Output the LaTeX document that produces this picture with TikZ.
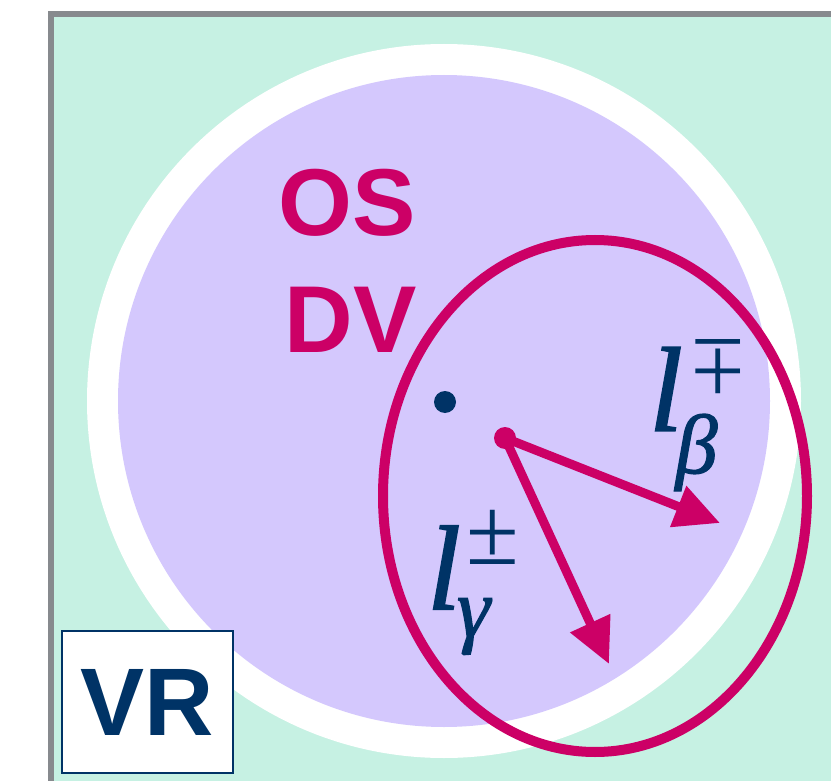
\documentclass[tikz,border=0pt]{standalone}
\usepackage{fontspec}
\setmainfont{Liberation Serif}
\newfontfamily\sansfont{Liberation Sans}
\newfontfamily\mathlike{Liberation Serif}[FakeBold=1.5]
\usetikzlibrary{arrows.meta}
\definecolor{mint}{HTML}{C6F1E3}
\definecolor{lav}{HTML}{D4C8FD}
\definecolor{pinkc}{HTML}{CC0066}
\definecolor{navy}{HTML}{003366}
\definecolor{framegray}{HTML}{878A8E}
\newsavebox\glyphbox
% place #3 with its box centre at (#1,#2) pt from the current base point, taking no width
\newcommand\placeglyph[3]{\sbox\glyphbox{#3}\rlap{\kern\dimexpr#1pt-0.5\wd\glyphbox\relax\raisebox{\dimexpr#2pt-0.5\ht\glyphbox+0.5\dp\glyphbox\relax}{\usebox\glyphbox}}}
\newcommand\lglyph{{\mathlike\itshape\fontsize{120}{120}\selectfont l}}
\newcommand\pmglyph{{\fontsize{96}{96}\selectfont ±}}
\newcommand\mpglyph{{\fontsize{96}{96}\selectfont\rotatebox[origin=c]{180}{±}}}
\newcommand\subglyph[1]{{\mathlike\itshape\fontsize{84}{84}\selectfont #1}}
\tikzset{
  bigsans/.style={font=\sansfont\bfseries\fontsize{95}{95}\selectfont, inner sep=0pt},
  vecarrow/.style={draw=pinkc, line width=9pt, -{Triangle[length=45pt,width=42pt]}},
  lbl/.style={text=navy, inner sep=0pt, anchor=base},
}
\begin{document}
\begin{tikzpicture}[x=1pt,y=-1pt]
\useasboundingbox (0,0) rectangle (831,781);
\clip (0,0) rectangle (831,781);
% background and frame
\fill[mint] (51,14) rectangle (900,900);
\draw[framegray, line width=6pt] (51,900) |- (900,14);
% circles
\fill[white] (444,401) circle [radius=357];
\fill[lav] (444,401) circle [radius=326];
\node[circle, fill=navy, minimum size=22pt, inner sep=0pt] (c) at (445,402) {};
% ellipse
\draw[pinkc, line width=10pt] (595,496) ellipse [x radius=212, y radius=256];
% OS DV
\node[bigsans, text=pinkc, anchor=base] (os) at (347.5,236) {OS};
\node[bigsans, text=pinkc, anchor=base] (dv) at (350.5,352) {DV};
% arrows
\coordinate (oc) at (505,438);
\coordinate (t1) at (720,523);
\coordinate (t2) at (609,664);
\draw[vecarrow] (oc) -- (t1);
\draw[vecarrow] (oc) -- (t2);
\node[circle, fill=pinkc, minimum size=22pt, inner sep=0pt] (o) at (oc) {};
% labels
\node[lbl] (lbeta) at (666,430) {\placeglyph{0}{41}{\lglyph}\placeglyph{52}{63.5}{\mpglyph}\placeglyph{30.5}{-22.5}{\subglyph{β}}};
\node[lbl] (lgamma) at (444,608) {\placeglyph{0}{40.5}{\lglyph}\placeglyph{49}{71}{\pmglyph}\placeglyph{29.5}{-18.5}{\subglyph{γ}}};
% VR box
\node[draw=navy, line width=2pt, fill=white, minimum width=171pt, minimum height=142pt, inner sep=0pt,
      text=navy, font=\sansfont\bfseries\fontsize{96}{96}\selectfont] (vr) at (147.5,702) {VR};
\end{tikzpicture}
\end{document}
